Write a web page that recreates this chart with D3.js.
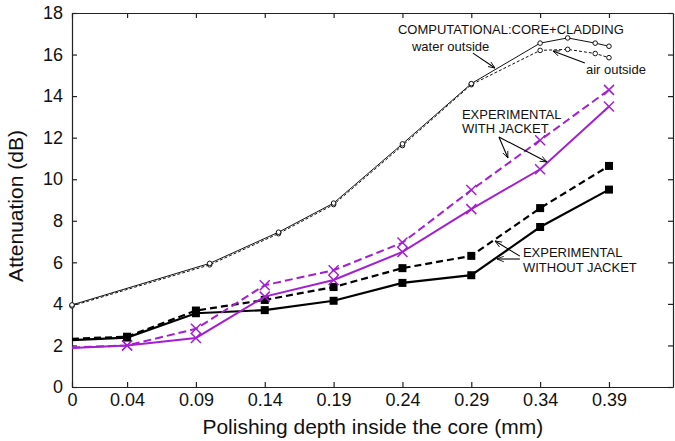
<!DOCTYPE html>
<html>
<head>
<meta charset="utf-8">
<script src="https://cdn.jsdelivr.net/npm/d3@7"></script>
<style>
  body { margin: 0; background: #fff; }
  svg { display: block; font-family: "Liberation Sans", Arial, sans-serif; }
</style>
</head>
<body>
<svg width="675" height="441"></svg>
<script>
// experimental points (mm of polishing depth)
var depth = [0, 0.04, 0.09, 0.14, 0.19, 0.24, 0.29, 0.34, 0.39];
var withJacketDashed = [1.9, 2.0, 2.8, 4.9, 5.62, 6.95, 9.48, 11.88, 14.3];
var withJacketSolid = [1.88, 2.0, 2.36, 4.35, 5.15, 6.5, 8.56, 10.48, 13.5];
var withoutJacketDashed = [2.32, 2.42, 3.68, 4.19, 4.81, 5.72, 6.31, 8.61, 10.64];
var withoutJacketSolid = [2.26, 2.38, 3.55, 3.7, 4.15, 5.01, 5.38, 7.7, 9.5];

// computational curves
var compDepth = [0, 0.1, 0.15, 0.19, 0.24, 0.29, 0.34, 0.36, 0.38, 0.39];
var waterOutside = [3.95, 5.95, 7.45, 8.85, 11.7, 14.6, 16.55, 16.8, 16.55, 16.4];
var airOutside = [3.9, 5.88, 7.38, 8.78, 11.62, 14.55, 16.2, 16.25, 16.05, 15.85];

var xTicks = [0, 0.04, 0.09, 0.14, 0.19, 0.24, 0.29, 0.34, 0.39];
var yTicks = [0, 2, 4, 6, 8, 10, 12, 14, 16, 18];

var purple = "#a41fd0";

var svg = d3.select("svg"),
    margin = { top: 13, right: 2, bottom: 54, left: 72 },
    width = +svg.attr("width") - margin.left - margin.right,
    height = +svg.attr("height") - margin.top - margin.bottom;

var g = svg.append("g")
    .attr("transform", "translate(" + margin.left + "," + margin.top + ")");

var x = d3.scaleLinear().domain([0, 0.4365]).range([0, width]);
var y = d3.scaleLinear().domain([0, 18]).range([height, 0]);

// arrow head for the annotations
svg.append("defs").append("marker")
    .attr("id", "head")
    .attr("viewBox", "0 -5 10 10")
    .attr("refX", 10).attr("refY", 0)
    .attr("markerWidth", 7).attr("markerHeight", 7)
    .attr("markerUnits", "userSpaceOnUse")
    .attr("orient", "auto")
  .append("path")
    .attr("d", "M0,-4L10,0L0,4")
    .attr("fill", "none")
    .attr("stroke", "#000")
    .attr("stroke-width", 1.2);

// axes, ticks pointing inward
var fmt = function(d) { return d === 0 ? "0" : d3.format(".2f")(d); };

g.append("g")
    .attr("transform", "translate(0," + height + ")")
    .call(d3.axisBottom(x).tickValues(xTicks).tickFormat(fmt).tickSize(-5).tickSizeOuter(0).tickPadding(6))
    .call(styleAxis);

g.append("g")
    .call(d3.axisTop(x).tickValues(xTicks).tickFormat("").tickSize(-5).tickSizeOuter(0))
    .call(styleAxis);

g.append("g")
    .call(d3.axisLeft(y).tickValues(yTicks).tickSize(-5).tickSizeOuter(0).tickPadding(9))
    .call(styleAxis);

g.append("g")
    .attr("transform", "translate(" + width + ",0)")
    .call(d3.axisRight(y).tickValues(yTicks).tickFormat("").tickSize(-5).tickSizeOuter(0))
    .call(styleAxis);

function styleAxis(sel) {
  sel.select(".domain").attr("stroke", "#222").attr("stroke-width", 1.2);
  sel.selectAll(".tick line").attr("stroke", "#222").attr("stroke-width", 1.2);
  sel.selectAll(".tick text")
      .attr("font-size", 18)
      .attr("font-family", "Liberation Sans, Arial, sans-serif")
      .attr("fill", "#111");
}

// axis titles
svg.append("text")
    .attr("x", margin.left + x(0.2185))
    .attr("y", 434)
    .attr("text-anchor", "middle")
    .attr("font-size", 21)
    .attr("fill", "#111")
    .text("Polishing depth inside the core (mm)");

svg.append("text")
    .attr("transform", "translate(23," + (margin.top + height / 2 + 6) + ") rotate(-90)")
    .attr("text-anchor", "middle")
    .attr("font-size", 21)
    .attr("fill", "#111")
    .text("Attenuation (dB)");

// series
function drawSeries(xs, ys, opts) {
  var pts = xs.map(function(d, i) { return [d, ys[i]]; });
  var line = d3.line()
      .x(function(d) { return x(d[0]); })
      .y(function(d) { return y(d[1]); });

  g.append("path")
      .datum(pts)
      .attr("d", line)
      .attr("fill", "none")
      .attr("stroke", opts.color)
      .attr("stroke-width", opts.width)
      .attr("stroke-dasharray", opts.dash || null);

  var mk = g.append("g").selectAll("g")
      .data(pts.filter(function(d) { return opts.skipZero ? d[0] > 0 : true; }))
      .enter().append("g")
      .attr("transform", function(d) { return "translate(" + x(d[0]) + "," + y(d[1]) + ")"; });

  if (opts.marker === "square") {
    mk.append("rect")
        .attr("x", -4).attr("y", -4)
        .attr("width", 8).attr("height", 8)
        .attr("fill", opts.color);
  } else if (opts.marker === "cross") {
    mk.append("path")
        .attr("d", "M-5,-5L5,5M-5,5L5,-5")
        .attr("stroke", opts.color)
        .attr("stroke-width", 1.5)
        .attr("fill", "none");
  } else if (opts.marker === "circle") {
    mk.append("circle")
        .attr("r", 2.3)
        .attr("fill", "#fff")
        .attr("stroke", opts.color)
        .attr("stroke-width", 1);
  }
}

drawSeries(compDepth, airOutside, { color: "#111", width: 1, dash: "3,2", marker: "circle" });
drawSeries(compDepth, waterOutside, { color: "#111", width: 1, marker: "circle" });
drawSeries(depth, withoutJacketDashed, { color: "#000", width: 2.2, dash: "7,4", marker: "square", skipZero: true });
drawSeries(depth, withoutJacketSolid, { color: "#000", width: 2.2, marker: "square", skipZero: true });
drawSeries(depth, withJacketDashed, { color: purple, width: 2, dash: "8,4", marker: "cross", skipZero: true });
drawSeries(depth, withJacketSolid, { color: purple, width: 2, marker: "cross", skipZero: true });

// annotations (positions in data units)
function label(lines, d, v, dy) {
  var t = g.append("text")
      .attr("font-size", 13)
      .attr("fill", "#111");
  lines.forEach(function(s, i) {
    t.append("tspan")
        .attr("x", x(d))
        .attr("y", y(v) + i * dy)
        .text(s);
  });
}

function arrow(d1, v1, d2, v2) {
  g.append("line")
      .attr("x1", x(d1)).attr("y1", y(v1))
      .attr("x2", x(d2)).attr("y2", y(v2))
      .attr("stroke", "#000")
      .attr("stroke-width", 1.1)
      .attr("marker-end", "url(#head)");
}

label(["COMPUTATIONAL:CORE+CLADDING"], 0.2367, 16.99, 0);
label(["water outside"], 0.2469, 16.17, 0);
arrow(0.2912, 16.07, 0.3072, 15.35);

label(["air outside"], 0.3733, 15.06, 0);
arrow(0.3725, 15.59, 0.3493, 16.17);

label(["EXPERIMENTAL", "WITH JACKET"], 0.2832, 12.9, 14);
arrow(0.3101, 12.03, 0.3166, 11.02);
arrow(0.3101, 12.03, 0.345, 10.83);

label(["EXPERIMENTAL", "WITHOUT JACKET"], 0.3275, 6.26, 15);
arrow(0.3253, 6.3, 0.3072, 7.03);
arrow(0.3253, 6.16, 0.3086, 6.16);
</script>
</body>
</html>
